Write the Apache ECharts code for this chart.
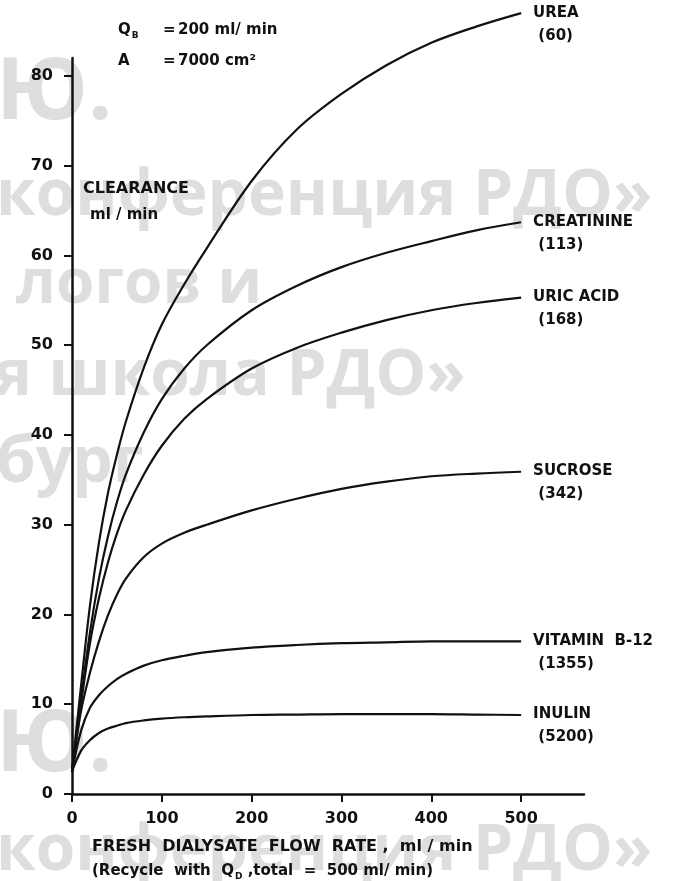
<!DOCTYPE html>
<html lang="en">
<head>
<meta charset="UTF-8">
<title>Clearance vs dialysate flow</title>
<style>
  html, body {margin:0; padding:0; background:#fff}
  #chart {width:681px; height:881px}
</style>
<script src="https://cdn.jsdelivr.net/npm/echarts@6/dist/echarts.min.js"></script>
</head>
<body>
<div id="chart"></div>
<script>
// fresh dialysate flow rate, ml/min (sample points)
const flowRates = [0, 10, 20, 30, 40, 50, 60, 80, 100, 125, 150, 200, 250, 300, 350, 400, 450, 500]

// clearance, ml/min
const urea       = [2.5, 12, 21, 28, 33.5, 37.8, 41.5, 47.5, 52.3, 56.8, 60.8, 68.3, 74, 78, 81.2, 83.7, 85.5, 87]
const creatinine = [2.5, 10.5, 18, 24, 28.7, 32.5, 35.6, 40.3, 44, 47.4, 50, 53.9, 56.6, 58.7, 60.3, 61.6, 62.8, 63.7]
const uricAcid   = [2.5, 10, 16.8, 21.8, 25.8, 29, 31.6, 35.6, 38.8, 41.8, 44, 47.4, 49.7, 51.4, 52.8, 53.9, 54.7, 55.3]
const sucrose    = [2.5, 9.2, 13.5, 17, 19.9, 22.2, 24, 26.4, 27.9, 29.1, 30, 31.6, 32.9, 34, 34.8, 35.4, 35.7, 35.9]
const vitaminB12 = [2.5, 7, 9.6, 11, 12, 12.8, 13.4, 14.3, 14.9, 15.4, 15.8, 16.3, 16.6, 16.8, 16.9, 17, 17, 17]
const inulin     = [2.5, 4.8, 6, 6.8, 7.3, 7.6, 7.9, 8.2, 8.4, 8.55, 8.65, 8.8, 8.85, 8.9, 8.9, 8.9, 8.85, 8.8]

const soluteNames = ['UREA', 'CREATININE', 'URIC ACID', 'SUCROSE', 'VITAMIN  B-12', 'INULIN']
const molWeights  = ['(60)', '(113)', '(168)', '(342)', '(1355)', '(5200)']
const curves = [urea, creatinine, uricAcid, sucrose, vitaminB12, inulin]

const xTicks = [0, 100, 200, 300, 400, 500]
const yTicks = [0, 10, 20, 30, 40, 50, 60, 70, 80]

const FONT = 'DejaVu Sans'
const INK = '#111'
const WM = '#dedede'

let chart = echarts.init(document.getElementById('chart'))

function txt(x, y, text, size, rich) {
    let style = {
        text: text, fill: INK, font: 'bold ' + size + 'px "' + FONT + '"',
        verticalAlign: 'middle'
    }
    if (rich) style.rich = rich
    return {type: 'text', x: x, y: y, z: 10, style: style}
}
function mark(x, y, text, size) {
    return {
        type: 'text', x: x, y: y, z: -10, silent: true,
        style: {text: text, fill: WM, font: 'bold ' + size + 'px "Open Sans"', verticalAlign: 'middle'}
    }
}

// subscript letters in the annotations
const subRich = {
    n: {fontFamily: FONT, fontWeight: 'bold', fontSize: 15, color: INK, lineHeight: 20, verticalAlign: 'middle'},
    s: {fontFamily: FONT, fontWeight: 'bold', fontSize: 9, color: INK, lineHeight: 20, verticalAlign: 'bottom', padding: [0, 0, 0, 1]}
}

let option = {
    animation: false,
    backgroundColor: '#fff',
    grid: {left: 72, right: 97, top: 58, bottom: 87},
    xAxis: {
        type: 'value', min: 0, max: 570,
        axisLine: {lineStyle: {color: INK, width: 2.5}},
        axisTick: {customValues: xTicks, length: 8, lineStyle: {color: INK, width: 2}},
        axisLabel: {customValues: xTicks, color: INK, fontFamily: FONT, fontWeight: 'bold', fontSize: 16, margin: 17},
        splitLine: {show: false}
    },
    yAxis: {
        type: 'value', min: 0, max: 82,
        axisLine: {show: true, lineStyle: {color: INK, width: 2.5}},
        axisTick: {show: true, customValues: yTicks, length: 8, lineStyle: {color: INK, width: 2}},
        axisLabel: {customValues: yTicks, color: INK, fontFamily: FONT, fontWeight: 'bold', fontSize: 16, margin: 19},
        splitLine: {show: false}
    },
    series: curves.map((vals, i) => ({
        name: soluteNames[i],
        type: 'line',
        data: flowRates.map((x, j) => [x, vals[j]]),
        smooth: 0.35,
        showSymbol: false,
        clip: false,
        lineStyle: {color: INK, width: 2.2},
        endLabel: {
            show: true,
            formatter: () => soluteNames[i] + '\n ' + molWeights[i],
            color: INK, fontFamily: FONT, fontWeight: 'bold', fontSize: 15,
            lineHeight: 23, distance: 12, offset: [0, 11]
        }
    })),
    graphic: [
        // watermark left on the scanned figure
        mark(-4, 94, 'Ю.', 86),
        mark(-4, 197, 'конференция РДО»', 64),
        mark(16, 285, 'логов и', 62),
        mark(-6, 377, 'я школа РДО»', 64),
        mark(-4, 464, 'бург', 64),
        mark(-4, 746, 'Ю.', 86),
        mark(-4, 852, 'конференция РДО»', 64),
        // annotations
        txt(118, 30, '{n|Q}{s|B}', 15, subRich),
        txt(163, 30, '=', 15),
        txt(178, 30, '200 ml/ min', 15),
        txt(118, 61, 'A', 15),
        txt(163, 61, '=', 15),
        txt(178, 61, '7000 cm²', 15),
        txt(83, 189, 'CLEARANCE', 16),
        txt(90, 215, 'ml / min', 15),
        txt(92, 847, 'FRESH  DIALYSATE  FLOW  RATE ,  ml / min', 16),
        txt(92, 871, '{n|(Recycle  with  Q}{s|D}{n| ,total  =  500 ml/ min)}', 15, subRich)
    ]
}

chart.setOption(option)
</script>
</body>
</html>
